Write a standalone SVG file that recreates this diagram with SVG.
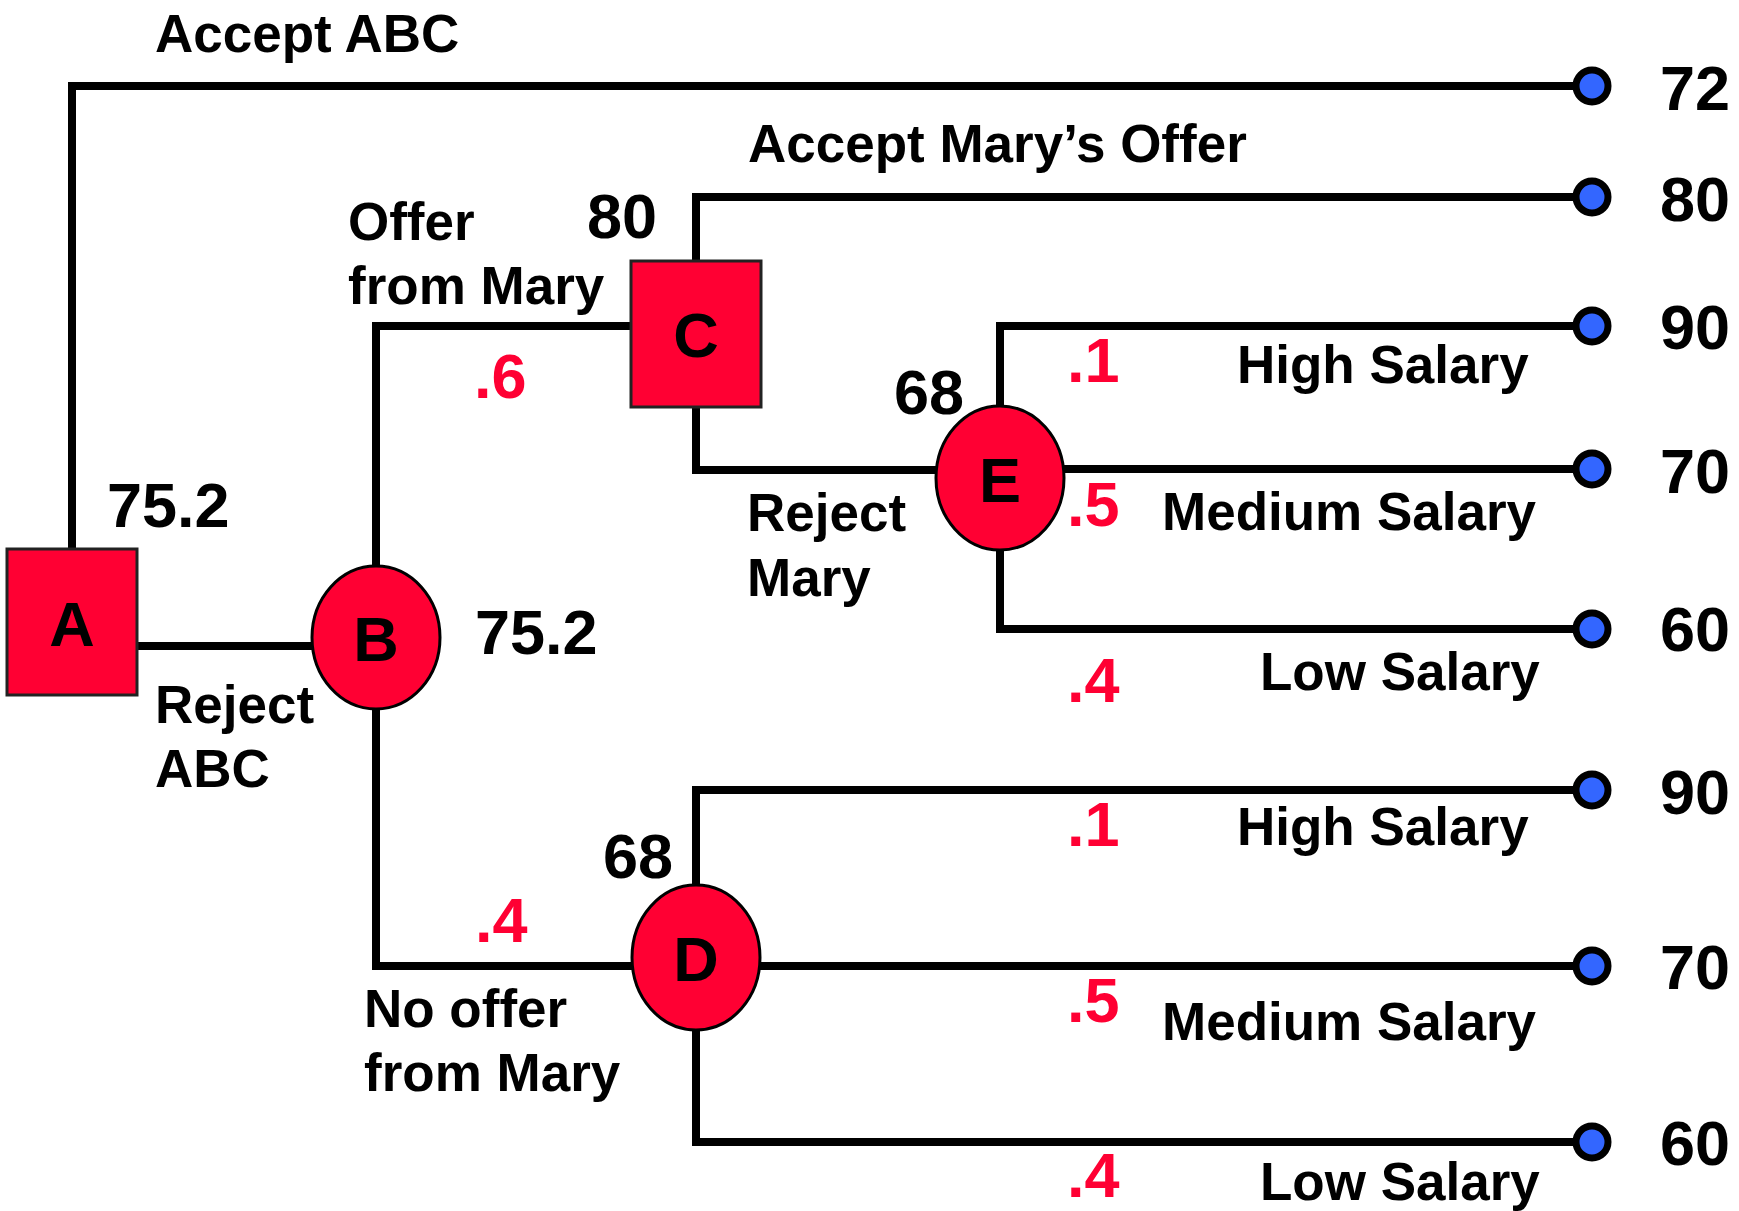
<svg xmlns="http://www.w3.org/2000/svg" width="1739" height="1211" viewBox="0 0 1739 1211">
<style>
text{font-family:"Liberation Sans",Arial,sans-serif;font-weight:bold;fill:#000}
.lbl{font-size:53px}
.num{font-size:63px}
.prob{font-size:63px;fill:#ff0033}
.ltr{font-size:63px;text-anchor:middle}
.dec{fill:#ff0033;stroke:#222;stroke-width:3}
.chance{fill:#ff0033;stroke:#000;stroke-width:3}
.edge{fill:none;stroke:#000;stroke-width:8}
.end{fill:#3366ff;stroke:#000;stroke-width:7}
</style>
<rect width="1739" height="1211" fill="#fff"/>
<g id="connectors">
<polyline class="edge" points="72,549 72,86 1592,86"/>
<line class="edge" x1="137" y1="646" x2="313" y2="646"/>
<polyline class="edge" points="376,566 376,326 632,326"/>
<polyline class="edge" points="376,709 376,966 632,966"/>
<polyline class="edge" points="696,261 696,197 1592,197"/>
<polyline class="edge" points="696,407 696,470 937,470"/>
<polyline class="edge" points="1000,406 1000,326 1592,326"/>
<line class="edge" x1="1063" y1="469" x2="1592" y2="469"/>
<polyline class="edge" points="1000,550 1000,629 1592,629"/>
<polyline class="edge" points="696,885 696,790 1592,790"/>
<line class="edge" x1="759" y1="966" x2="1592" y2="966"/>
<polyline class="edge" points="696,1030 696,1142 1592,1142"/>
</g>
<g id="edge-labels">
<text class="lbl" x="155" y="52">Accept ABC</text>
<text class="lbl" x="748" y="162">Accept Mary’s Offer</text>
<text class="lbl" x="348" y="240">Offer</text>
<text class="lbl" x="348" y="304">from Mary</text>
<text class="prob" x="474" y="398">.6</text>
<text class="lbl" x="155" y="723">Reject</text>
<text class="lbl" x="155" y="787">ABC</text>
<text class="lbl" x="747" y="531">Reject</text>
<text class="lbl" x="747" y="596">Mary</text>
<text class="prob" x="475" y="942">.4</text>
<text class="lbl" x="364" y="1027">No offer</text>
<text class="lbl" x="364" y="1091">from Mary</text>
<text class="prob" x="1067" y="382">.1</text>
<text class="lbl" x="1237" y="383">High Salary</text>
<text class="prob" x="1067" y="526">.5</text>
<text class="lbl" x="1162" y="530">Medium Salary</text>
<text class="prob" x="1067" y="702">.4</text>
<text class="lbl" x="1260" y="690">Low Salary</text>
<text class="prob" x="1067" y="846">.1</text>
<text class="lbl" x="1237" y="845">High Salary</text>
<text class="prob" x="1067" y="1022">.5</text>
<text class="lbl" x="1162" y="1040">Medium Salary</text>
<text class="prob" x="1067" y="1197">.4</text>
<text class="lbl" x="1260" y="1200">Low Salary</text>
</g>
<g id="node-A">
<rect class="dec" x="7" y="549" width="130" height="146"/>
<text class="ltr" x="72" y="646">A</text>
<text class="num" x="107" y="527">75.2</text>
</g>
<g id="node-B">
<ellipse class="chance" cx="376" cy="637.5" rx="64" ry="71.5"/>
<text class="ltr" x="376" y="661">B</text>
<text class="num" x="475" y="654">75.2</text>
</g>
<g id="node-C">
<rect class="dec" x="631" y="261" width="130" height="146"/>
<text class="ltr" x="696" y="357">C</text>
<text class="num" x="587" y="238">80</text>
</g>
<g id="node-E">
<ellipse class="chance" cx="1000" cy="478" rx="64" ry="72"/>
<text class="ltr" x="1000" y="502">E</text>
<text class="num" x="894" y="414">68</text>
</g>
<g id="node-D">
<ellipse class="chance" cx="696" cy="957.5" rx="64" ry="72.5"/>
<text class="ltr" x="696" y="981">D</text>
<text class="num" x="603" y="878">68</text>
</g>
<g id="end-72"><circle class="end" cx="1592" cy="86" r="16"/><text class="num" x="1660" y="110">72</text></g>
<g id="end-80"><circle class="end" cx="1592" cy="197" r="16"/><text class="num" x="1660" y="221">80</text></g>
<g id="end-90a"><circle class="end" cx="1592" cy="326" r="16"/><text class="num" x="1660" y="349">90</text></g>
<g id="end-70a"><circle class="end" cx="1592" cy="469" r="16"/><text class="num" x="1660" y="493">70</text></g>
<g id="end-60a"><circle class="end" cx="1592" cy="629" r="16"/><text class="num" x="1660" y="651">60</text></g>
<g id="end-90b"><circle class="end" cx="1592" cy="790" r="16"/><text class="num" x="1660" y="814">90</text></g>
<g id="end-70b"><circle class="end" cx="1592" cy="966" r="16"/><text class="num" x="1660" y="989">70</text></g>
<g id="end-60b"><circle class="end" cx="1592" cy="1142" r="16"/><text class="num" x="1660" y="1165">60</text></g>
</svg>
